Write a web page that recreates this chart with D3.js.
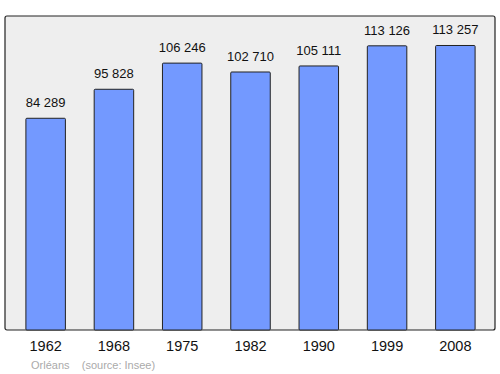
<!DOCTYPE html>
<html>
<head>
  <script src="https://d3js.org/d3.v7.min.js"></script>
  <style>
    body { margin: 0; background: #fff; }
    text { font-family: "Liberation Sans", Arial, sans-serif; }
  </style>
</head>
<body>
  <svg width="500" height="374"></svg>
  <script>
    var years = ["1962", "1968", "1975", "1982", "1990", "1999", "2008"];
    var population = [84289, 95828, 106246, 102710, 105111, 113126, 113257];
    var labels = ["84 289", "95 828", "106 246", "102 710", "105 111", "113 126", "113 257"];

    var svg = d3.select("svg");
    var plotTop = 16, plotBottom = 330, plotLeft = 5, plotRight = 495;

    var x = d3.scaleBand().domain(years).range([11.5, 489.5]).padding(0);
    var y = d3.scaleLinear().domain([0, 125000]).range([plotBottom, plotTop]);
    var barW = 39.5;

    svg.append("rect")
      .attr("x", plotLeft).attr("y", plotTop)
      .attr("width", plotRight - plotLeft).attr("height", plotBottom - plotTop)
      .attr("rx", 2)
      .attr("fill", "#eeeeee")
      .attr("stroke", "#222").attr("stroke-width", 1.2);

    var g = svg.selectAll(".bar").data(years).enter().append("g");

    g.append("rect")
      .attr("x", function(d) { return x(d) + x.bandwidth() / 2 - barW / 2; })
      .attr("y", function(d, i) { return y(population[i]); })
      .attr("width", barW)
      .attr("height", function(d, i) { return plotBottom - y(population[i]); })
      .attr("rx", 1)
      .attr("fill", "#7399ff")
      .attr("stroke", "#222").attr("stroke-width", 1);

    g.append("text")
      .attr("x", function(d) { return x(d) + x.bandwidth() / 2; })
      .attr("y", function(d, i) { return y(population[i]) - 11; })
      .attr("text-anchor", "middle")
      .attr("font-size", 13)
      .attr("fill", "#111")
      .text(function(d, i) { return labels[i]; });

    var axis = svg.append("g")
      .attr("transform", "translate(0," + plotBottom + ")")
      .call(d3.axisBottom(x).tickSize(0).tickPadding(11));
    axis.select(".domain").remove();
    axis.selectAll("text")
      .attr("font-size", 14.5)
      .attr("fill", "#111")
      .style("font-family", "'Liberation Sans', Arial, sans-serif");

    svg.append("text")
      .attr("x", 31).attr("y", 369)
      .attr("font-size", 11)
      .attr("fill", "#aaa")
      .attr("xml:space", "preserve")
      .text("Orléans    (source: Insee)");
  </script>
</body>
</html>
